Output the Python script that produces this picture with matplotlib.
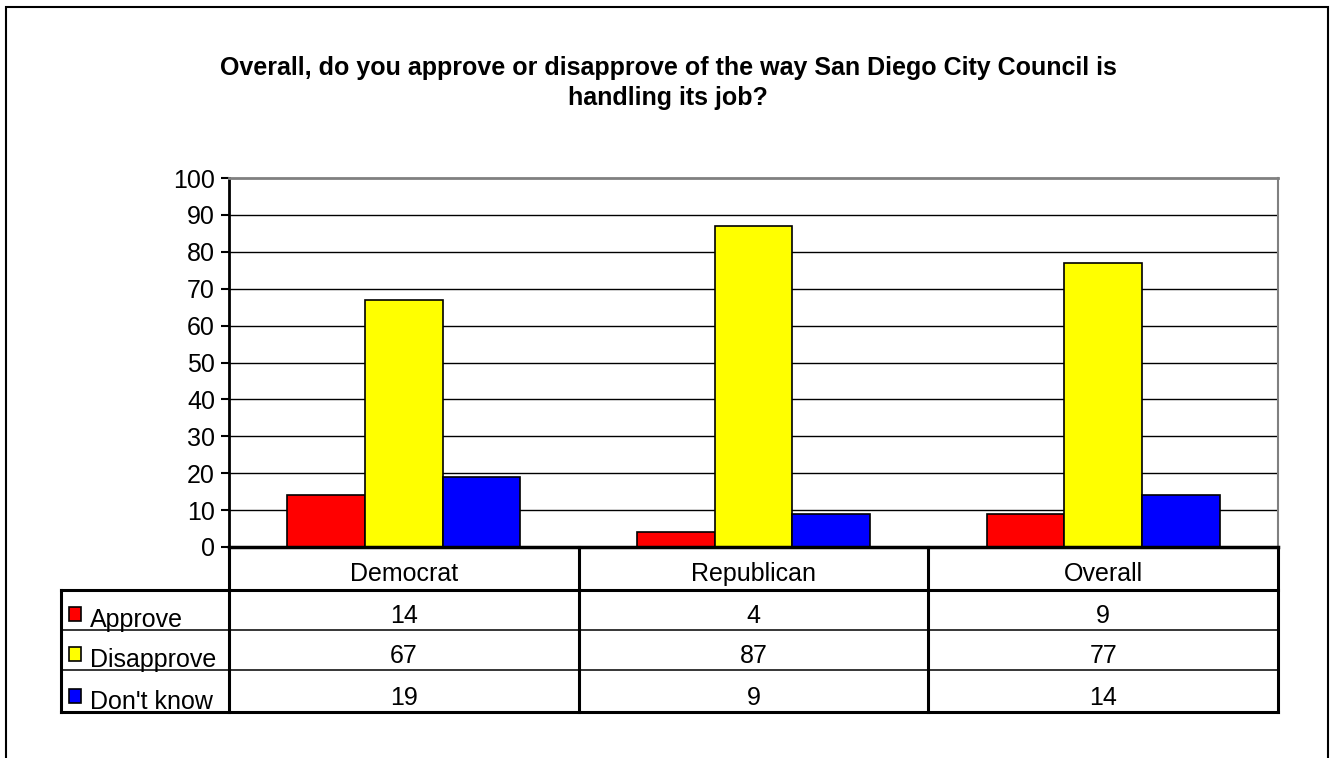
import matplotlib
matplotlib.use("Agg")
import matplotlib.pyplot as plt
from matplotlib.patches import Rectangle
import matplotlib.transforms as mtransforms

categories = ["Democrat", "Republican", "Overall"]
series_names = ["Approve", "Disapprove", "Don't know"]
approve = [14, 4, 9]
disapprove = [67, 87, 77]
dont_know = [19, 9, 14]
series_values = [approve, disapprove, dont_know]
colors = ["#ff0000", "#ffff00", "#0000ff"]
yticks = list(range(0, 101, 10))

title_lines = ["Overall, do you approve or disapprove of the way San Diego City Council is",
               "handling its job?"]

W, H = 1330, 758
fig = plt.figure(figsize=(W / 100, H / 100), dpi=100)
plt.rcParams["font.family"] = ["Liberation Sans", "DejaVu Sans"]
FS = 18

# outer chart frame
fig.patches.append(Rectangle((6 / W, -0.05), (1328 - 6) / W, (H - 7) / H + 0.05,
                             transform=fig.transFigure, fill=False,
                             edgecolor="black", linewidth=1.5))

for j, line in enumerate(title_lines):
    fig.text(668 / W, (H - 75 - 30 * j) / H, line, ha="center", va="baseline",
             fontsize=FS, fontweight="bold")

x0, x1, y0, y1 = 229, 1278, 547, 178
ax = fig.add_axes([x0 / W, (H - y0) / H, (x1 - x0) / W, (y0 - y1) / H])

n = len(categories)
bw = 1 / 4.5
for k, (vals, c) in enumerate(zip(series_values, colors)):
    xs = [i + 0.5 + (k - 1) * bw for i in range(n)]
    ax.bar(xs, vals, width=bw, color=c, edgecolor="black", linewidth=1.2, zorder=3)

ax.set_xlim(0, n)
ax.set_ylim(0, 100)
ax.set_yticks(yticks)
ax.set_yticklabels([str(t) for t in yticks], fontsize=FS)
ax.set_xticks([])
ax.tick_params(axis="y", direction="out", length=6, width=1.5, pad=4)
for t in yticks[1:-1]:
    ax.axhline(t, color="black", linewidth=1, zorder=1)
ax.spines["top"].set_color("#808080")
ax.spines["top"].set_linewidth(2)
ax.spines["right"].set_color("#808080")
ax.spines["right"].set_linewidth(1.5)
ax.spines["left"].set_linewidth(2)
ax.spines["bottom"].set_linewidth(2.5)
ax.spines["bottom"].set_zorder(4)

# data table under the axis
px = 1 / (y0 - y1)  # one pixel in axes fraction
trans = mtransforms.blended_transform_factory(ax.transData, ax.transAxes)
row_edges = [0, -43 * px, -83 * px, -123 * px, -165 * px]
left = (61 - x0) / (x1 - x0) * n  # left column edge in data units
unit = n / (x1 - x0)  # one pixel in data units

def hline(xa, xb, y, lw):
    ax.plot([xa, xb], [y, y], color="black", linewidth=lw, transform=trans,
            clip_on=False, solid_capstyle="projecting")

def vline(x, ya, yb, lw):
    ax.plot([x, x], [ya, yb], color="black", linewidth=lw, transform=trans,
            clip_on=False, solid_capstyle="projecting")

hline(0, n, row_edges[1], 2.2)
hline(left, 0, row_edges[1], 2.2)
hline(left, n, row_edges[4], 2.2)
for e in row_edges[2:4]:
    hline(left + 2 * unit, n, e, 1.1)
vline(left, row_edges[1], row_edges[4], 2.2)
for i in range(n + 1):
    vline(i, 0, row_edges[4], 2.2)

for i, cat in enumerate(categories):
    ax.text(i + 0.5, row_edges[1] + 9 * px, cat, transform=trans,
            ha="center", va="baseline", fontsize=FS)
for r, (name, vals, c) in enumerate(zip(series_names, series_values, colors)):
    bottom = row_edges[r + 2]
    for i, v in enumerate(vals):
        ax.text(i + 0.5, bottom + 7 * px, f"{v:.0f}", transform=trans,
                ha="center", va="baseline", fontsize=FS)
    ax.add_patch(Rectangle((left + 8 * unit, bottom + 9 * px), 12 * unit, 14 * px,
                           transform=trans, facecolor=c, edgecolor="black",
                           linewidth=1.2, clip_on=False))
    ax.text(left + 29 * unit, bottom + 3 * px, name, transform=trans,
            ha="left", va="baseline", fontsize=FS)

fig.savefig("out.png", dpi=100)
